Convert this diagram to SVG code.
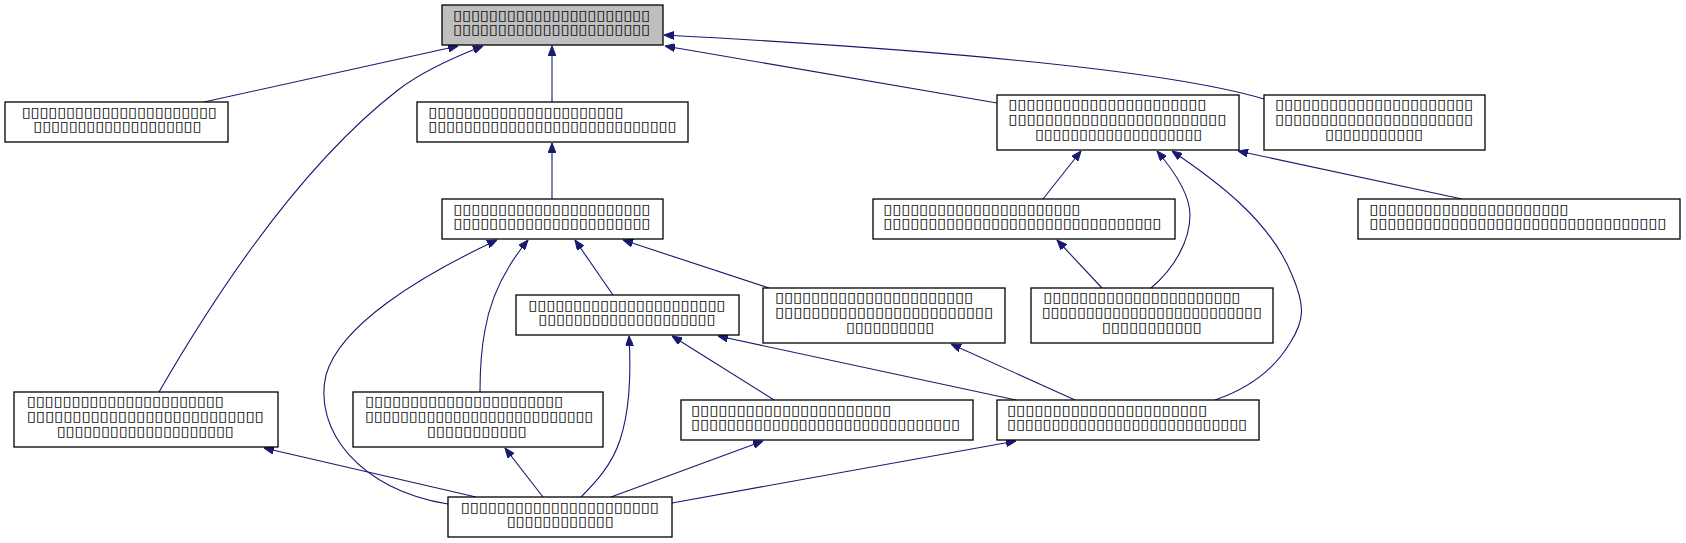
<svg xmlns="http://www.w3.org/2000/svg" width="1686" height="543" viewBox="0 0 1686 543">
<style>
.n rect{fill:#ffffff;stroke:#000000;stroke-width:1.3}
.n.root rect{fill:#bfbfbf}
.n text{font-family:"DejaVu Sans",sans-serif;font-size:14px;fill:#111;dominant-baseline:central}
.e path{fill:none;stroke:#191970;stroke-width:1.1;marker-start:url(#ah)}
</style>
<defs>
<marker id="ah" viewBox="0 0 10 8" refX="10" refY="4" markerWidth="10" markerHeight="8" markerUnits="userSpaceOnUse" orient="auto-start-reverse">
<path d="M0,0 L10,4 L0,8 Z" fill="#191970" stroke="#191970"/>
</marker>
</defs>
<rect width="1686" height="543" fill="#ffffff"/>
<g class="e" id="connectors">
<path d="M458,46 L204,102"/>
<path d="M483,46 C452,58 420,73 398,90 C300,166 218,290 159,392"/>
<path d="M552,46 V102"/>
<path d="M665,46 L997,103"/>
<path d="M664,35 C850,45 1150,65 1264,99"/>
<path d="M552,143 V199"/>
<path d="M1081,151 L1043,199"/>
<path d="M1157,151 C1175,172 1190,195 1190,215 C1190,240 1175,268 1151,288"/>
<path d="M1172,151 C1215,180 1270,220 1292,275 C1305,305 1305,320 1290,343 C1275,368 1250,388 1215,400"/>
<path d="M1238,151 L1462,199"/>
<path d="M1057,240 L1102,288"/>
<path d="M497,240 C420,276 340,325 326,375 C313,430 360,490 448,504"/>
<path d="M528,240 C505,268 490,300 485,330 C481,350 480,370 480,392"/>
<path d="M575,240 L613,295"/>
<path d="M623,240 L769,288"/>
<path d="M629,336 C631,370 630,410 620,440 C612,465 595,483 581,497"/>
<path d="M672,336 L774,400"/>
<path d="M718,336 L1016,400"/>
<path d="M951,344 L1075,400"/>
<path d="M264,448 L476,497"/>
<path d="M505,448 L543,497"/>
<path d="M763,441 L611,497"/>
<path d="M1016,441 L672,503"/>
</g>
<g class="n root" id="node1"><rect x="442" y="5" width="221" height="40"/>
<text x="453" y="15" textLength="197" lengthAdjust="spacingAndGlyphs">▯▯▯▯▯▯▯▯▯▯▯▯▯▯▯▯▯▯▯▯▯▯</text>
<text x="453" y="29" textLength="197" lengthAdjust="spacingAndGlyphs">▯▯▯▯▯▯▯▯▯▯▯▯▯▯▯▯▯▯▯▯▯▯</text></g>
<g class="n" id="node2"><rect x="5" y="102" width="223" height="40"/>
<text x="21.7" y="112" textLength="195" lengthAdjust="spacingAndGlyphs">▯▯▯▯▯▯▯▯▯▯▯▯▯▯▯▯▯▯▯▯▯▯</text>
<text x="33.3" y="126" textLength="168" lengthAdjust="spacingAndGlyphs">▯▯▯▯▯▯▯▯▯▯▯▯▯▯▯▯▯▯▯</text></g>
<g class="n" id="node3"><rect x="417" y="102" width="271" height="40"/>
<text x="428.3" y="112" textLength="195" lengthAdjust="spacingAndGlyphs">▯▯▯▯▯▯▯▯▯▯▯▯▯▯▯▯▯▯▯▯▯▯</text>
<text x="428.3" y="126" textLength="248" lengthAdjust="spacingAndGlyphs">▯▯▯▯▯▯▯▯▯▯▯▯▯▯▯▯▯▯▯▯▯▯▯▯▯▯▯▯</text></g>
<g class="n" id="node4"><rect x="997" y="95" width="242" height="55"/>
<text x="1008.3" y="104" textLength="198" lengthAdjust="spacingAndGlyphs">▯▯▯▯▯▯▯▯▯▯▯▯▯▯▯▯▯▯▯▯▯▯</text>
<text x="1008.3" y="119" textLength="218" lengthAdjust="spacingAndGlyphs">▯▯▯▯▯▯▯▯▯▯▯▯▯▯▯▯▯▯▯▯▯▯▯▯</text>
<text x="1035" y="134" textLength="167" lengthAdjust="spacingAndGlyphs">▯▯▯▯▯▯▯▯▯▯▯▯▯▯▯▯▯▯▯</text></g>
<g class="n" id="node5"><rect x="1264" y="95" width="221" height="55"/>
<text x="1275" y="104" textLength="198" lengthAdjust="spacingAndGlyphs">▯▯▯▯▯▯▯▯▯▯▯▯▯▯▯▯▯▯▯▯▯▯</text>
<text x="1275" y="119" textLength="198" lengthAdjust="spacingAndGlyphs">▯▯▯▯▯▯▯▯▯▯▯▯▯▯▯▯▯▯▯▯▯▯</text>
<text x="1325" y="134" textLength="98" lengthAdjust="spacingAndGlyphs">▯▯▯▯▯▯▯▯▯▯▯</text></g>
<g class="n" id="node6"><rect x="442" y="199" width="221" height="40"/>
<text x="453.3" y="209" textLength="197" lengthAdjust="spacingAndGlyphs">▯▯▯▯▯▯▯▯▯▯▯▯▯▯▯▯▯▯▯▯▯▯</text>
<text x="453.3" y="223" textLength="197" lengthAdjust="spacingAndGlyphs">▯▯▯▯▯▯▯▯▯▯▯▯▯▯▯▯▯▯▯▯▯▯</text></g>
<g class="n" id="node7"><rect x="873" y="199" width="302" height="40"/>
<text x="883.3" y="209" textLength="197" lengthAdjust="spacingAndGlyphs">▯▯▯▯▯▯▯▯▯▯▯▯▯▯▯▯▯▯▯▯▯▯</text>
<text x="883.3" y="223" textLength="278" lengthAdjust="spacingAndGlyphs">▯▯▯▯▯▯▯▯▯▯▯▯▯▯▯▯▯▯▯▯▯▯▯▯▯▯▯▯▯▯▯</text></g>
<g class="n" id="node8"><rect x="1358" y="199" width="322" height="40"/>
<text x="1369.3" y="209" textLength="199" lengthAdjust="spacingAndGlyphs">▯▯▯▯▯▯▯▯▯▯▯▯▯▯▯▯▯▯▯▯▯▯</text>
<text x="1369.3" y="223" textLength="297" lengthAdjust="spacingAndGlyphs">▯▯▯▯▯▯▯▯▯▯▯▯▯▯▯▯▯▯▯▯▯▯▯▯▯▯▯▯▯▯▯▯▯</text></g>
<g class="n" id="node9"><rect x="516" y="295" width="223" height="40"/>
<text x="528.3" y="305" textLength="197" lengthAdjust="spacingAndGlyphs">▯▯▯▯▯▯▯▯▯▯▯▯▯▯▯▯▯▯▯▯▯▯</text>
<text x="538.3" y="319" textLength="177" lengthAdjust="spacingAndGlyphs">▯▯▯▯▯▯▯▯▯▯▯▯▯▯▯▯▯▯▯▯</text></g>
<g class="n" id="node10"><rect x="763" y="288" width="242" height="55"/>
<text x="775" y="297" textLength="198" lengthAdjust="spacingAndGlyphs">▯▯▯▯▯▯▯▯▯▯▯▯▯▯▯▯▯▯▯▯▯▯</text>
<text x="775" y="312" textLength="218" lengthAdjust="spacingAndGlyphs">▯▯▯▯▯▯▯▯▯▯▯▯▯▯▯▯▯▯▯▯▯▯▯▯</text>
<text x="846" y="327" textLength="88" lengthAdjust="spacingAndGlyphs">▯▯▯▯▯▯▯▯▯▯</text></g>
<g class="n" id="node11"><rect x="1031" y="288" width="242" height="55"/>
<text x="1043.3" y="297" textLength="197" lengthAdjust="spacingAndGlyphs">▯▯▯▯▯▯▯▯▯▯▯▯▯▯▯▯▯▯▯▯▯▯</text>
<text x="1041.7" y="312" textLength="220" lengthAdjust="spacingAndGlyphs">▯▯▯▯▯▯▯▯▯▯▯▯▯▯▯▯▯▯▯▯▯▯▯▯▯</text>
<text x="1101.7" y="327" textLength="100" lengthAdjust="spacingAndGlyphs">▯▯▯▯▯▯▯▯▯▯▯</text></g>
<g class="n" id="node12"><rect x="14" y="392" width="264" height="55"/>
<text x="26.7" y="401" textLength="197" lengthAdjust="spacingAndGlyphs">▯▯▯▯▯▯▯▯▯▯▯▯▯▯▯▯▯▯▯▯▯▯</text>
<text x="26.7" y="416" textLength="237" lengthAdjust="spacingAndGlyphs">▯▯▯▯▯▯▯▯▯▯▯▯▯▯▯▯▯▯▯▯▯▯▯▯▯▯</text>
<text x="56.7" y="431" textLength="177" lengthAdjust="spacingAndGlyphs">▯▯▯▯▯▯▯▯▯▯▯▯▯▯▯▯▯▯▯▯</text></g>
<g class="n" id="node13"><rect x="353" y="392" width="250" height="55"/>
<text x="365" y="401" textLength="198" lengthAdjust="spacingAndGlyphs">▯▯▯▯▯▯▯▯▯▯▯▯▯▯▯▯▯▯▯▯▯▯</text>
<text x="365" y="416" textLength="228" lengthAdjust="spacingAndGlyphs">▯▯▯▯▯▯▯▯▯▯▯▯▯▯▯▯▯▯▯▯▯▯▯▯▯▯</text>
<text x="426.7" y="431" textLength="100" lengthAdjust="spacingAndGlyphs">▯▯▯▯▯▯▯▯▯▯▯</text></g>
<g class="n" id="node14"><rect x="681" y="400" width="292" height="40"/>
<text x="691" y="410" textLength="200" lengthAdjust="spacingAndGlyphs">▯▯▯▯▯▯▯▯▯▯▯▯▯▯▯▯▯▯▯▯▯▯</text>
<text x="691" y="424" textLength="269" lengthAdjust="spacingAndGlyphs">▯▯▯▯▯▯▯▯▯▯▯▯▯▯▯▯▯▯▯▯▯▯▯▯▯▯▯▯▯▯</text></g>
<g class="n" id="node15"><rect x="997" y="400" width="262" height="40"/>
<text x="1007" y="410" textLength="200" lengthAdjust="spacingAndGlyphs">▯▯▯▯▯▯▯▯▯▯▯▯▯▯▯▯▯▯▯▯▯▯</text>
<text x="1007" y="424" textLength="240" lengthAdjust="spacingAndGlyphs">▯▯▯▯▯▯▯▯▯▯▯▯▯▯▯▯▯▯▯▯▯▯▯▯▯▯▯</text></g>
<g class="n" id="node16"><rect x="448" y="497" width="224" height="40"/>
<text x="460.7" y="507" textLength="198" lengthAdjust="spacingAndGlyphs">▯▯▯▯▯▯▯▯▯▯▯▯▯▯▯▯▯▯▯▯▯▯</text>
<text x="506.7" y="521" textLength="107" lengthAdjust="spacingAndGlyphs">▯▯▯▯▯▯▯▯▯▯▯▯</text></g>
</svg>
